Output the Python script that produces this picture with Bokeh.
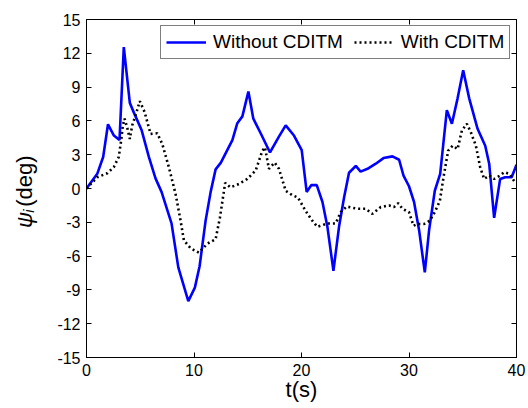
import math

from bokeh.embed import file_html
from bokeh.models import FixedTicker, Label, LinearAxis, Range1d
from bokeh.plotting import figure
from bokeh.resources import INLINE

# Heading angle psi_i (deg) over time, without and with CDITM
t_without = [0, 1.0, 1.55, 2.0, 2.55, 3.07, 3.47, 4.03, 4.47, 5.12,
             5.8, 6.42, 6.98, 7.91, 8.54, 9.47, 10.08, 10.52, 11.08, 11.55,
             12.01, 12.5, 13.57, 14.03, 14.5, 15.06, 15.52, 16.2, 17.07, 17.9,
             18.53, 19.3, 20.02, 20.48, 20.92, 21.42, 21.95, 22.41, 22.97, 23.49,
             23.96, 24.42, 25.05, 25.5, 26.14, 26.91, 27.63, 28.46, 29.08, 29.49,
             30.0, 30.47, 30.94, 31.47, 31.87, 32.4, 32.9, 33.52, 33.99, 34.52,
             35.04, 35.6, 36.38, 37.09, 37.46, 37.92, 38.48, 38.95, 39.55, 40.0]
psi_without = [0, 1.3, 2.8, 5.7, 4.7, 4.3, 12.55, 7.6, 6.6, 5.2,
               2.8, 0.9, -0.3, -3.1, -7.0, -10.0, -8.8, -6.9, -2.85, -0.3,
               1.7, 2.3, 4.3, 5.8, 6.4, 8.6, 6.2, 4.9, 3.2, 4.6,
               5.6, 4.7, 3.4, -0.3, 0.3, 0.3, -1.2, -3.4, -7.3, -3.4,
               -0.8, 1.4, 2.0, 1.5, 1.75, 2.2, 2.7, 2.85, 2.55, 1.15,
               0.2, -1.2, -3.7, -7.45, -3.7, -0.2, 1.3, 6.95, 5.75, 8.0,
               10.5, 8.0, 5.3, 3.8, 2.2, -2.6, 0.85, 1.0, 1.0, 2.1]

t_with = [0, 1.0, 1.93, 2.54, 3.0, 3.23, 3.38, 3.54, 3.79, 4.03,
          4.25, 4.5, 4.96, 5.4, 5.96, 6.58, 7.05, 7.66, 8.29, 8.75,
          9.06, 9.68, 10.46, 11.24, 12.01, 12.41, 12.9, 13.4, 14.18, 14.96,
          15.74, 16.36, 16.6, 16.97, 17.5, 17.9, 18.53, 19.15, 19.67, 20.39,
          21.0, 21.48, 22.41, 23.18, 23.65, 24.2, 25.2, 25.98, 26.6, 27.37,
          28.15, 28.6, 28.99, 29.4, 30.0, 30.42, 30.79, 31.41, 31.94, 32.4,
          32.87, 33.21, 33.64, 34.05, 34.52, 34.92, 35.38, 35.75, 36.22, 36.62,
          36.99, 37.46, 37.92, 38.48, 38.86, 39.33, 39.86, 40.0]
psi_with = [0, 1.0, 1.35, 1.9, 2.8, 4.3, 5.6, 6.2, 5.4, 4.4,
            5.6, 6.3, 7.75, 6.8, 4.85, 4.9, 3.95, 1.9, -0.5, -2.85,
            -4.6, -5.3, -5.7, -4.9, -4.5, -2.6, 0.5, 0.1, 0.4, 0.85,
            1.6, 3.35, 3.65, 1.75, 2.3, 1.75, -0.2, -0.6, -0.8, -2.0,
            -2.85, -3.4, -3.1, -3.1, -2.1, -1.6, -1.8, -1.8, -2.25, -1.65,
            -1.5, -1.65, -1.3, -1.8, -2.1, -3.3, -3.15, -3.15, -2.85, -2.1,
            -1.1, 1.0, 3.35, 3.8, 3.5, 5.15, 5.75, 5.0, 3.8, 1.9,
            0.85, 1.15, 0.85, 1.15, 1.45, 1.3, 0.55, 0.6]

x_ticks = [0, 10, 20, 30, 40]
y_ticks = [-15, -12, -9, -6, -3, 0, 3, 6, 9, 12, 15]

FONT = "Liberation Sans"

p = figure(width=528, height=408, output_backend="svg", toolbar_location=None,
           x_range=Range1d(0, 40), y_range=Range1d(-15, 15),
           min_border_left=86, min_border_right=12, min_border_top=19,
           min_border_bottom=51, background_fill_color="white",
           border_fill_color="white")
p.xgrid.visible = False
p.ygrid.visible = False
p.outline_line_color = "black"
p.outline_line_width = 1

p.line(t_without, psi_without, line_color="#0000FF", line_width=2.6,
       legend_label="Without CDITM")
p.line(t_with, psi_with, line_color="black", line_width=2.6,
       line_dash="2 3", legend_label="With CDITM")


def style_axis(ax, ticks, show_labels):
    ax.ticker = FixedTicker(ticks=ticks)
    ax.major_tick_in = 5
    ax.major_tick_out = 0
    ax.minor_tick_line_color = None
    ax.axis_line_color = "black"
    ax.major_tick_line_color = "black"
    ax.major_label_text_font = FONT
    if show_labels:
        ax.major_label_text_font_size = "16px"
        ax.major_label_text_color = "black"
        ax.major_label_standoff = 6
        # plain hyphen-minus for negative tick values
        ax.major_label_overrides = {t: str(t) for t in ticks}
    else:
        ax.major_label_text_font_size = "1px"
        ax.major_label_text_color = None
        ax.major_label_standoff = 0


style_axis(p.xaxis[0], x_ticks, True)
style_axis(p.yaxis[0], y_ticks, True)

top_axis = LinearAxis()
style_axis(top_axis, x_ticks, False)
p.add_layout(top_axis, "above")
right_axis = LinearAxis()
style_axis(right_axis, y_ticks, False)
p.add_layout(right_axis, "right")


def title_label(x, y, text, size, italic=False, angle=0.0, align="left"):
    return Label(x=x, y=y, text=text, angle=angle, text_font=FONT,
                 text_font_style="italic" if italic else "normal",
                 text_font_size=size, text_align=align,
                 text_baseline="alphabetic", text_color="black")


# axis titles sit in the side panels so the frame does not clip them;
# each panel only gets pieces that fit inside its border
p.add_layout(title_label(20, -17.85, "t(s)", "22px", align="center"), "below")
p.add_layout(title_label(-5.75, -3.5, "ψ", "22px", italic=True, angle=math.pi / 2), "left")
p.add_layout(title_label(-5.38, -2.15, "i", "15px", italic=True, angle=math.pi / 2), "above")
p.add_layout(title_label(-5.75, -1.62, "(deg)", "22px", angle=math.pi / 2), "left")

lg = p.legend[0]
lg.orientation = "horizontal"
lg.location = (74, 298)
lg.border_line_color = "black"
lg.border_line_width = 1
lg.background_fill_color = "white"
lg.background_fill_alpha = 1
lg.label_text_font = FONT
lg.label_text_font_size = "19px"
lg.label_text_color = "black"
lg.glyph_width = 40
lg.glyph_height = 20
lg.label_standoff = 7
lg.spacing = 11
lg.padding = 5
lg.margin = 0

open("out.html", "w").write(file_html(p, INLINE))
